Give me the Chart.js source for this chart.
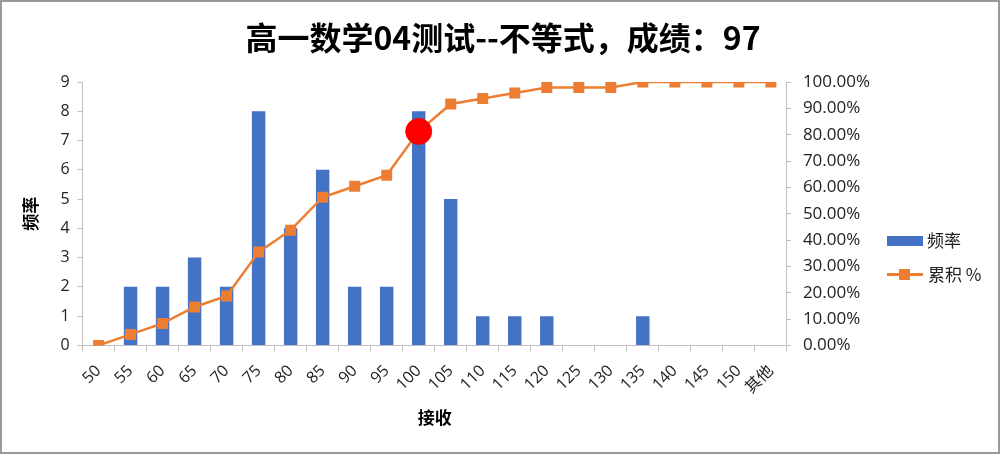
<!DOCTYPE html>
<html>
<head>
<meta charset="utf-8">
<script src="https://cdn.jsdelivr.net/npm/chart.js@4/dist/chart.umd.min.js"></script>
<style>
  html, body { margin: 0; padding: 0; background: #fff; }
  #wrap { position: relative; width: 1000px; height: 454px; }
  #frame { position: absolute; left: 0; top: 0; width: 1000px; height: 454px; box-sizing: border-box; border: 2px solid #9a9a9a; pointer-events: none; }
  #title { position: absolute; left: 0; top: 16px; width: 1006px; text-align: center; font-family: "Noto Sans CJK SC", sans-serif; font-weight: bold; font-size: 32px; line-height: 40px; color: #000; }
  .leg { position: absolute; font-family: "Noto Sans CJK SC", sans-serif; font-size: 17px; color: #222; line-height: 20px; }
  .swatch-bar { position: absolute; width: 36px; height: 10px; background: #4472C4; }
  .swatch-line { position: absolute; width: 36px; height: 3px; background: #ED7D31; }
  .swatch-mark { position: absolute; width: 11px; height: 11px; background: #ED7D31; }
</style>
</head>
<body>
<div id="wrap">
  <canvas id="c" width="1000" height="454"></canvas>
  <div id="title"></div>
  <div class="swatch-bar" style="left:887px; top:236px;"></div>
  <div class="leg" id="leg1" style="left:927px; top:230px;"></div>
  <div class="swatch-line" style="left:887px; top:273px;"></div>
  <div class="swatch-mark" style="left:899px; top:269px;"></div>
  <div class="leg" id="leg2" style="left:928px; top:264px;"></div>
  <div id="frame"></div>
</div>
<script>
const chartTitle = '高一数学04测试--不等式，成绩：97';
const categories = ['50','55','60','65','70','75','80','85','90','95','100','105','110','115','120','125','130','135','140','145','150','其他'];
const freq = [0,2,2,3,2,8,4,6,2,2,8,5,1,1,1,0,0,1,0,0,0,0];
const cumPct = [0,4.17,8.33,14.58,18.75,35.42,43.75,56.25,60.42,64.58,81.25,91.67,93.75,95.83,97.92,97.92,97.92,100,100,100,100,100];
const freqTicks = [0,1,2,3,4,5,6,7,8,9];
const pctTicks = [0,10,20,30,40,50,60,70,80,90,100];
const highlightCategory = '100';
const seriesNames = ['频率', '累积 %'];
const xTitle = '接收';
const yTitle = '频率';

document.getElementById('title').textContent = chartTitle;
document.getElementById('leg1').textContent = seriesNames[0];
document.getElementById('leg2').textContent = seriesNames[1];

const hiIdx = categories.indexOf(highlightCategory);
const highlightData = categories.map((c, i) => i === hiIdx ? cumPct[i] : null);

const FONT_NUM = '"Open Sans", "Noto Sans CJK SC", sans-serif';
const FONT_CJK = '"Noto Sans CJK SC", sans-serif';

new Chart(document.getElementById('c'), {
  data: {
    labels: categories,
    datasets: [
      { type: 'bar', label: seriesNames[0], data: freq, backgroundColor: '#4472C4', yAxisID: 'y', order: 3,
        barPercentage: 0.42, categoryPercentage: 1.0 },
      { type: 'line', label: seriesNames[1], data: cumPct, borderColor: '#ED7D31', backgroundColor: '#ED7D31',
        borderWidth: 2.5, pointStyle: 'rect', pointRadius: 6, pointHoverRadius: 6, tension: 0, yAxisID: 'y2', order: 2 },
      { type: 'line', label: 'highlight', data: highlightData, showLine: false, pointStyle: 'circle',
        pointRadius: 13, pointHoverRadius: 13, backgroundColor: '#FF0000', borderColor: '#FF0000', yAxisID: 'y2', order: 1 }
    ]
  },
  options: {
    responsive: false,
    animation: false,
    layout: { padding: { left: 16, right: 118, top: 82, bottom: 22 } },
    plugins: {
      legend: { display: false },
      tooltip: { enabled: false },
      title: { display: false }
    },
    scales: {
      x: {
        offset: true,
        grid: { display: true, offset: true, drawOnChartArea: false, tickLength: 6, color: '#bfbfbf' },
        border: { color: '#bfbfbf', width: 1 },
        ticks: { color: '#222', font: { family: FONT_NUM, size: 16 }, minRotation: 45, maxRotation: 45, autoSkip: false, padding: 10 },
        title: { display: true, text: xTitle, color: '#000', font: { family: FONT_CJK, size: 17, weight: 'bold' }, padding: { top: 0, bottom: 4 } }
      },
      y: {
        position: 'left', min: 0, max: 9,
        afterBuildTicks: (s) => { s.ticks = freqTicks.map(v => ({ value: v })); },
        grid: { drawOnChartArea: false, tickLength: 5, color: '#bfbfbf' },
        border: { color: '#bfbfbf', width: 1 },
        ticks: { color: '#222', font: { family: FONT_NUM, size: 16 }, padding: 8 },
        title: { display: true, text: yTitle, color: '#000', font: { family: FONT_CJK, size: 17, weight: 'bold' }, padding: { bottom: 12 } }
      },
      y2: {
        position: 'right', min: 0, max: 100,
        afterBuildTicks: (s) => { s.ticks = pctTicks.map(v => ({ value: v })); },
        grid: { drawOnChartArea: false, tickLength: 4, color: '#bfbfbf' },
        border: { color: '#bfbfbf', width: 1 },
        ticks: { color: '#222', font: { family: FONT_NUM, size: 17 }, padding: 12, callback: (v) => Number(v).toFixed(2) + '%' }
      }
    }
  }
});
</script>
</body>
</html>
